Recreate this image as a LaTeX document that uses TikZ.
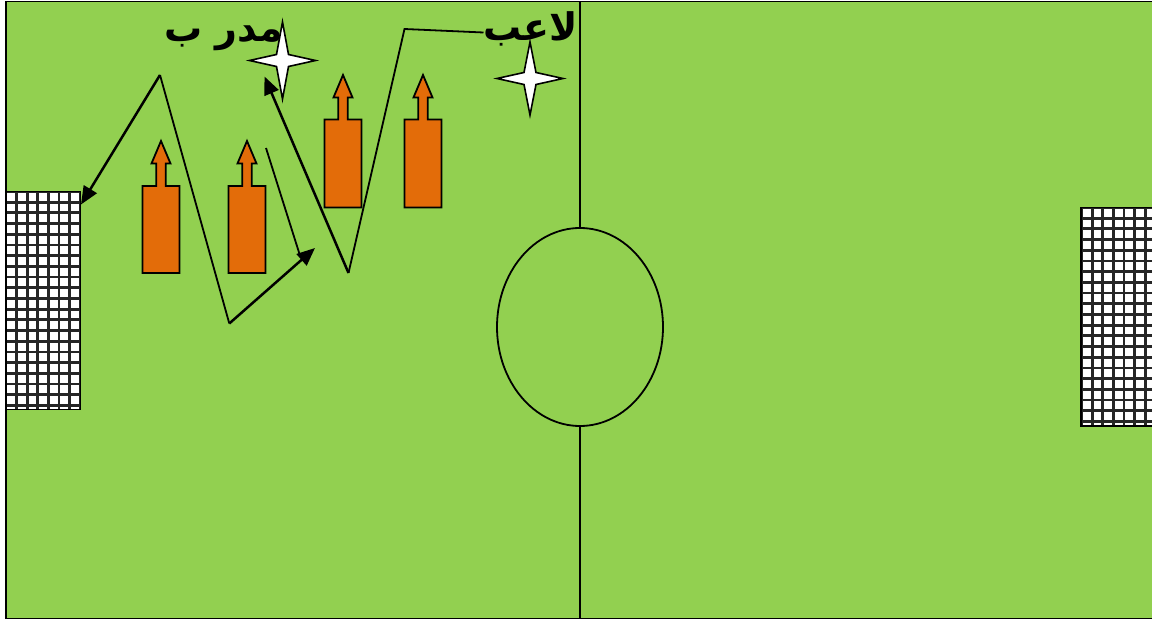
\documentclass[tikz,border=0pt]{standalone}
\usepackage{fontspec}
\newfontfamily\arabicfont[Script=Arabic]{DejaVu Sans}
\TeXXeTstate=1
\usetikzlibrary{arrows.meta,shapes.geometric}
\definecolor{fieldgreen}{HTML}{92D050}
\definecolor{coneorange}{HTML}{E36C09}
\tikzset{
  thinline/.style={line width=1.8pt, black},
  arrline/.style={line width=2.5pt, black, -{Triangle[length=18pt,width=15pt]}},
  conebody/.style={fill=coneorange, draw=black, line width=1.8pt, line join=miter},
  starshape/.style={fill=white, draw=black, line width=1.6pt, line join=miter},
  netline/.style={line width=2.8pt, black!85},
  lbl/.style={font=\arabicfont\bfseries\fontsize{38}{44}\selectfont, inner sep=0pt}
}
\newcommand\myCone[5]{% center x, body top, body bottom, head base, tip
  \draw[conebody] ({#1-18.5},#2) -- ({#1-4.7},#2) -- ({#1-4.7},#4) -- ({#1-9.5},#4) -- (#1,#5)
     -- ({#1+9.5},#4) -- ({#1+4.7},#4) -- ({#1+4.7},#2) -- ({#1+18.5},#2)
     -- ({#1+18.5},#3) -- ({#1-18.5},#3) -- cycle;}
\newcommand\myStar[4]{% cx, cy, half-width, half-height
  \draw[starshape] (#1,{#2-#4}) -- ({#1+6},{#2-6}) -- ({#1+#3},#2) -- ({#1+6},{#2+6})
     -- (#1,{#2+#4}) -- ({#1-6},{#2+6}) -- ({#1-#3},#2) -- ({#1-6},{#2-6}) -- cycle;}
\begin{document}
\begin{tikzpicture}[x=1pt,y=-1pt]
\useasboundingbox (0,0) rectangle (1152,620);
\fill[white] (0,0) rectangle (1152,620);
\begin{scope}
\clip (0,0) rectangle (1152,620);
\draw[fill=fieldgreen, line width=1.8pt] (6,1.5) rectangle (1170,618.5);
% goals
\fill[white] (6,191.5) rectangle (80.5,409.5);
\begin{scope}
  \clip (6,191.5) rectangle (80.5,409.5);
  \foreach \i in {0,...,8} {\draw[netline] ({6+10.6*\i},191) -- ({6+10.6*\i},410);}
  \foreach \j in {0,...,21} {\draw[netline] (6,{191.5+10.7*\j}) -- (81,{191.5+10.7*\j});}
\end{scope}
\draw[line width=1.8pt] (6,191.5) rectangle (80.5,409.5);
\fill[white] (1081,207.5) rectangle (1160,426);
\begin{scope}
  \clip (1081,207.5) rectangle (1160,426);
  \foreach \i in {0,...,8} {\draw[netline] ({1081.5+10.6*\i},207) -- ({1081.5+10.6*\i},427);}
  \foreach \j in {0,...,21} {\draw[netline] (1081,{207.5+10.7*\j}) -- (1160,{207.5+10.7*\j});}
\end{scope}
\draw[line width=1.8pt] (1081,207.5) rectangle (1170,426);
\end{scope}
% midline and circle
\node[draw, ellipse, line width=1.8pt, fill=fieldgreen, minimum width=166pt, minimum height=198pt, inner sep=0pt] (cc) at (580,327) {};
\coordinate (mtop) at (580,1.5);
\coordinate (mbot) at (580,618.5);
\draw[thinline] (mtop) -- (cc.north);
\draw[thinline] (cc.south) -- (mbot);
% cones
\myCone{161}{186}{273}{163.5}{141}
\myCone{247}{186}{273}{163.5}{141}
\myCone{343}{119.5}{207.5}{97.5}{75}
\myCone{423}{119.5}{207.5}{97.5}{75}
% labels
\node[lbl, anchor=base east] (coach) at (283,42) {\beginR مدر ب\endR};
\node[lbl, anchor=base east] (player) at (578,41) {\beginR لاعب\endR};
% path coordinates
\coordinate (a1) at (160,75);
\coordinate (a2) at (81,204.5);
\coordinate (b1) at (229.3,323.5);
\coordinate (b2) at (315,248);
\coordinate (c1) at (348.5,273);
\coordinate (c2) at (264.5,76.5);
\coordinate (d1) at (266,148);
\coordinate (d2) at (299.5,254);
\coordinate (f1) at (404.5,29);
\coordinate (f2) at (483.5,32.5);
\draw[thinline] (b1) -- (a1);
\draw[arrline] (a1) -- (a2);
\draw[arrline] (b1) -- (b2);
\draw[thinline] (d1) -- (d2);
\draw[thinline, line join=miter] (c1) -- (f1) -- (f2);
\draw[arrline] (c1) -- (c2);
% stars
\myStar{282.5}{60.5}{33}{38.5}
\myStar{530}{78.5}{33}{36.5}
\end{tikzpicture}
\end{document}
